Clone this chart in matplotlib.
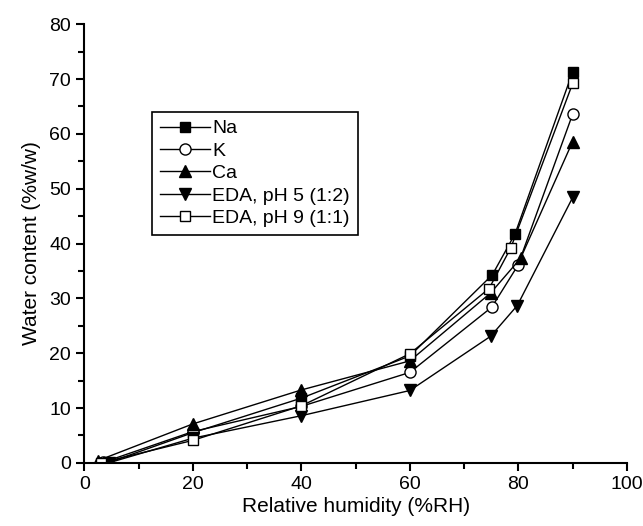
import matplotlib.pyplot as plt
from matplotlib.ticker import MultipleLocator

plt.rcParams['font.family'] = ['Liberation Sans', 'DejaVu Sans']

# --------------------------------------------------
# Data
# --------------------------------------------------
na_x = [4.3, 20, 40, 60, 75.2, 79.4, 90]
na_y = [0.0, 5.5, 11.8, 19.5, 34.3, 41.8, 71.3]

k_x = [3.5, 20, 40, 60, 75.1, 79.9, 90]
k_y = [0.1, 5.7, 10.3, 16.5, 28.4, 36.0, 63.6]

ca_x = [2.5, 20, 40, 60, 74.9, 80.4, 90]
ca_y = [0.4, 7.1, 13.3, 18.6, 31.0, 37.3, 58.6]

eda5_x = [4.5, 20, 40, 60, 74.9, 79.8, 90]
eda5_y = [0.0, 4.5, 8.6, 13.2, 23.1, 28.7, 48.4]

eda9_x = [3.0, 20, 40, 60, 74.6, 78.6, 90]
eda9_y = [0.0, 4.1, 10.4, 19.9, 31.8, 39.2, 69.2]

labels = ["Na", "K", "Ca", "EDA, pH 5 (1:2)", "EDA, pH 9 (1:1)"]

# --------------------------------------------------
# Plot
# --------------------------------------------------
fig = plt.figure(figsize=(6.43, 5.26), dpi=100)
ax = fig.add_axes([0.131, 0.12, 0.844, 0.834])

ax.plot(na_x, na_y, color="black", lw=1, marker="s", ms=7, mfc="black", label=labels[0])
ax.plot(k_x, k_y, color="black", lw=1, marker="o", ms=8, mfc="white", label=labels[1])
ax.plot(ca_x, ca_y, color="black", lw=1, marker="^", ms=9, mfc="black", label=labels[2])
ax.plot(eda5_x, eda5_y, color="black", lw=1, marker="v", ms=9, mfc="black", label=labels[3])
ax.plot(eda9_x, eda9_y, color="black", lw=1, marker="s", ms=7, mfc="white", label=labels[4])

ax.set_xlim(0, 100)
ax.set_ylim(0, 80)
ax.xaxis.set_major_locator(MultipleLocator(20))
ax.xaxis.set_minor_locator(MultipleLocator(10))
ax.yaxis.set_major_locator(MultipleLocator(10))
ax.yaxis.set_minor_locator(MultipleLocator(5))

ax.spines["top"].set_visible(False)
ax.spines["right"].set_visible(False)
ax.spines["left"].set_linewidth(1.5)
ax.spines["bottom"].set_linewidth(1.5)
ax.tick_params(which="major", direction="out", length=6, width=1.5, labelsize=14)
ax.tick_params(which="minor", direction="out", length=4, width=1.5)

ax.set_xlabel("Relative humidity (%RH)", fontsize=15, labelpad=3)
ax.set_ylabel("Water content (%w/w)", fontsize=15, labelpad=6)

leg = ax.legend(loc="upper left", bbox_to_anchor=(0.125, 0.80), borderaxespad=0,
                fontsize=14, fancybox=False, edgecolor="black", framealpha=1,
                handlelength=2.6, handletextpad=0.1, labelspacing=0.25,
                borderpad=0.4)
leg.get_frame().set_linewidth(1.2)

fig.savefig("out.png", dpi=100)
